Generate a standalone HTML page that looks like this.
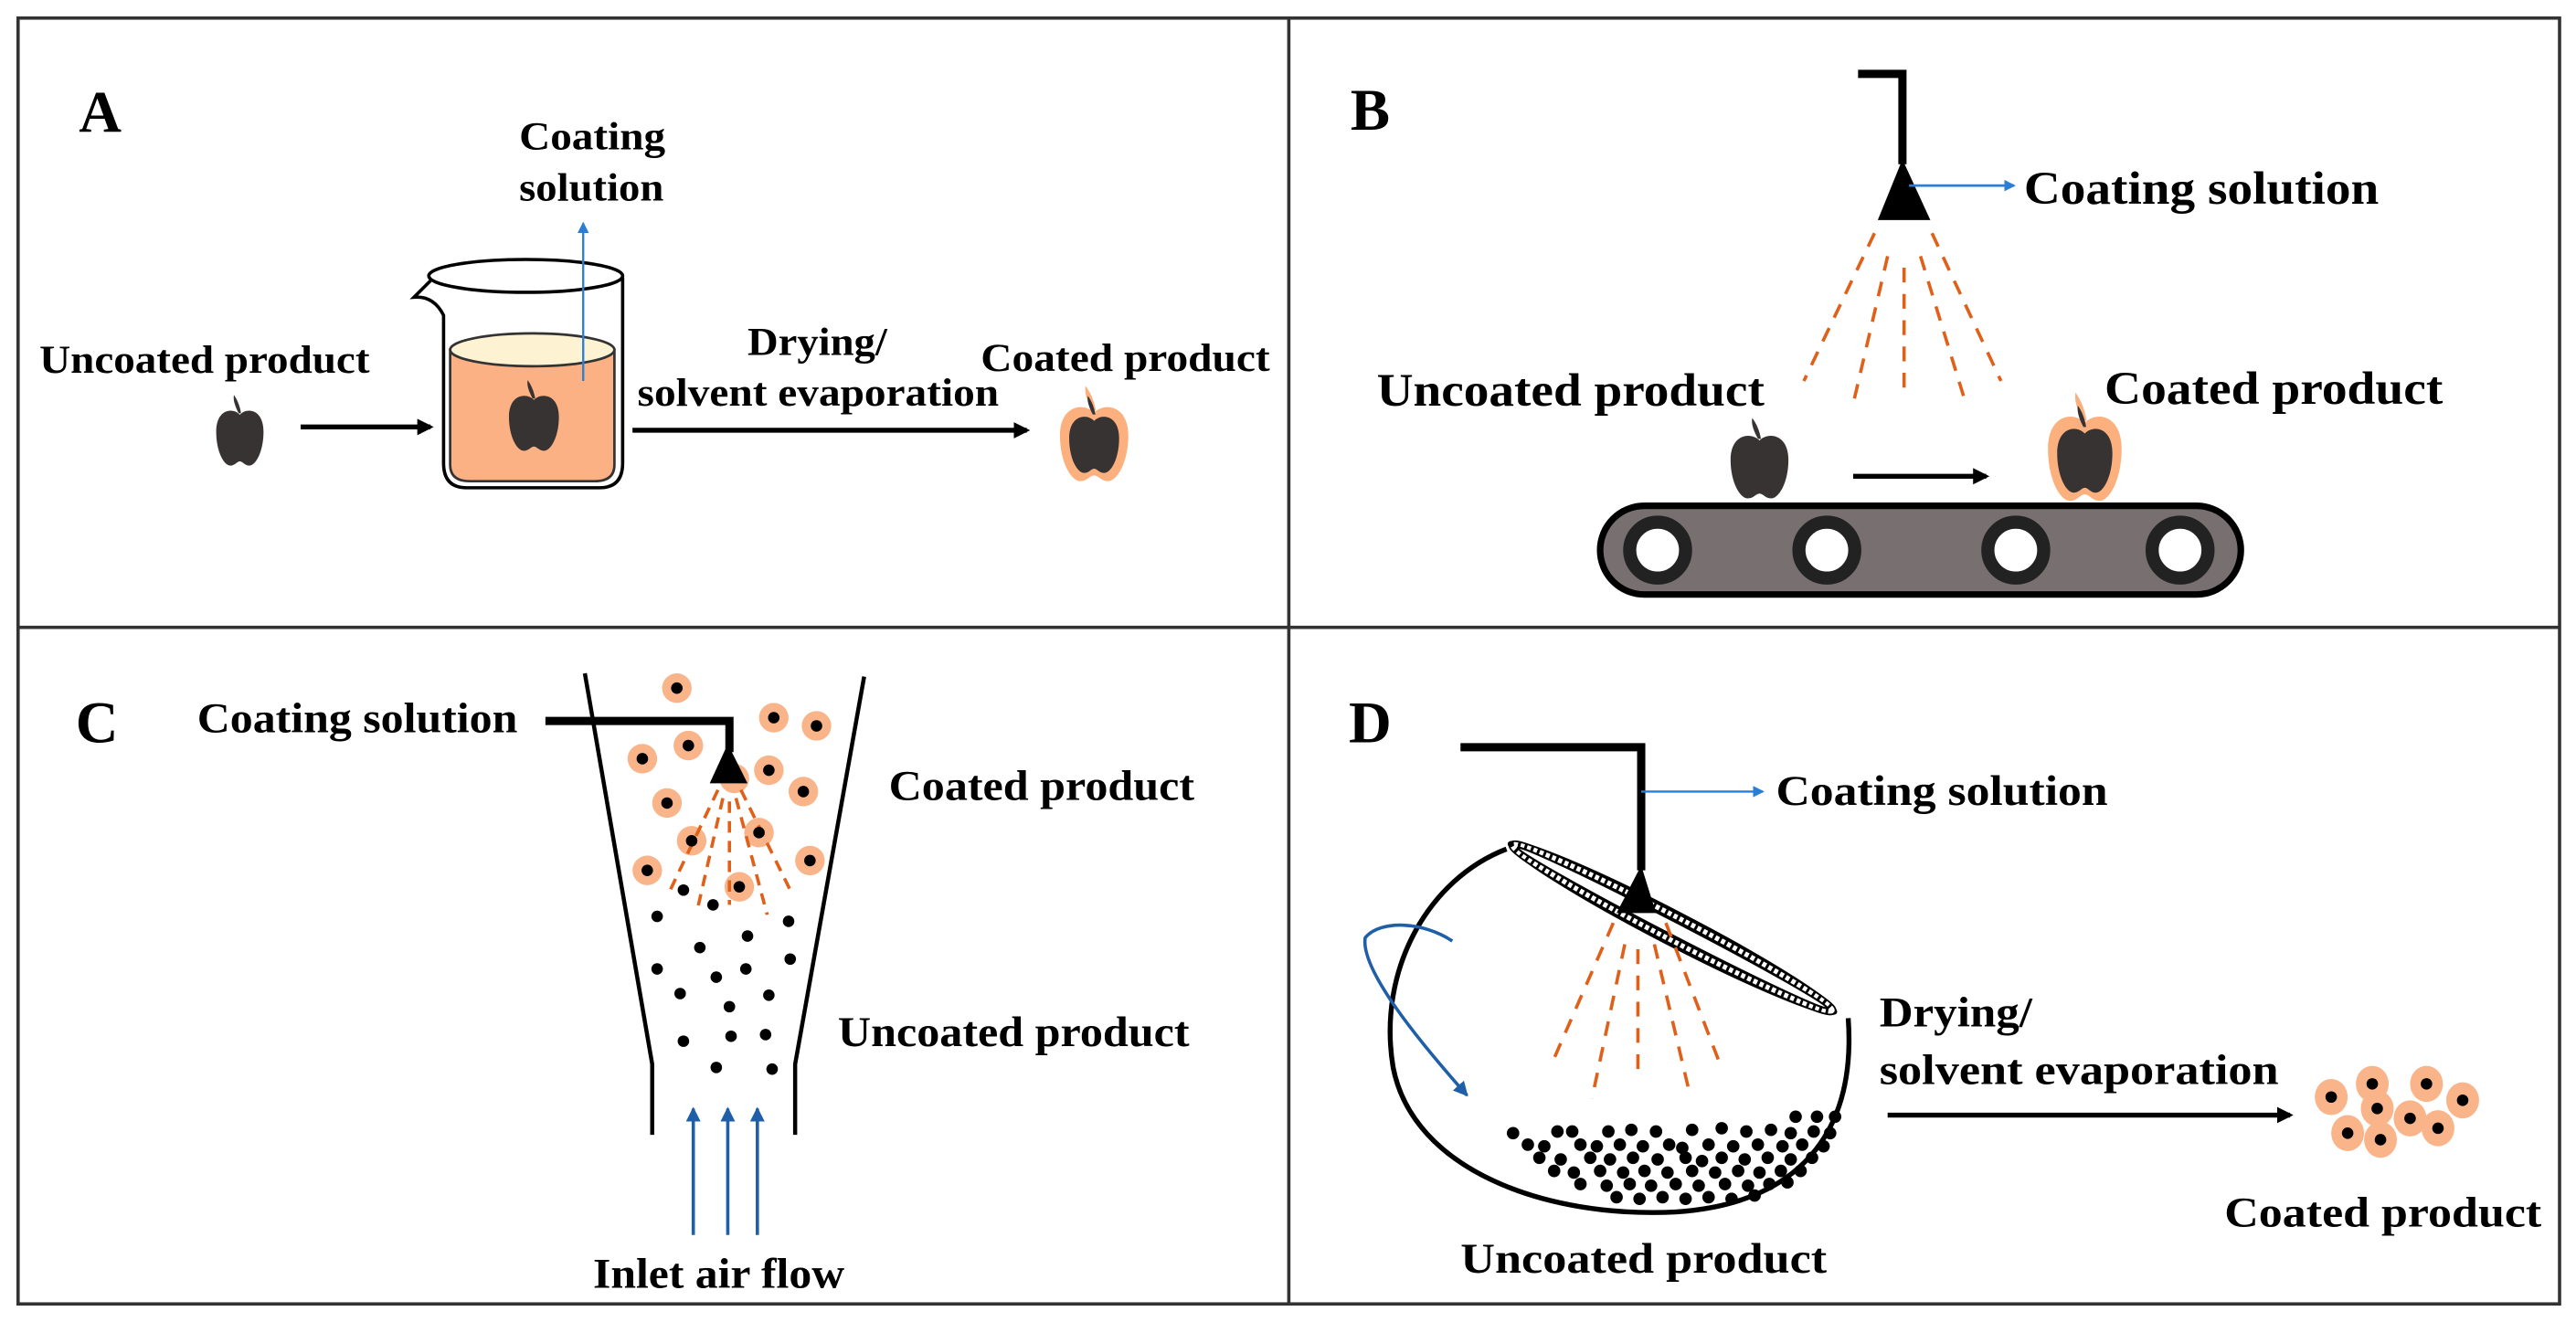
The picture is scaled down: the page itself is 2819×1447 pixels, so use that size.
<!DOCTYPE html>
<html><head><meta charset="utf-8"><style>
html,body{margin:0;padding:0;background:#fff;}
svg{display:block;}
text{font-family:"Liberation Serif",serif;font-weight:bold;fill:#000;}
</style></head><body>
<svg width="2819" height="1447" viewBox="0 0 1568 805" preserveAspectRatio="none" xmlns="http://www.w3.org/2000/svg">
<defs>
<marker id="ab" markerWidth="10" markerHeight="10" refX="8" refY="5" orient="auto" markerUnits="userSpaceOnUse"><path d="M0,0 L10,5 L0,10 Z" fill="#000"/></marker>
<marker id="abl" markerWidth="7" markerHeight="7" refX="6" refY="3.5" orient="auto" markerUnits="userSpaceOnUse"><path d="M0,0 L7,3.5 L0,7 Z" fill="#2a7fd4"/></marker>
<marker id="adb" markerWidth="9" markerHeight="9" refX="8" refY="4.5" orient="auto" markerUnits="userSpaceOnUse"><path d="M0,0 L9,4.5 L0,9 Z" fill="#1f5fa8"/></marker>
<path id="apb" d="M0,-0.22 C-0.12,-0.33 -0.4,-0.3 -0.4,0.02 C-0.4,0.3 -0.27,0.5 -0.16,0.5 C-0.08,0.5 -0.05,0.44 0,0.44 C0.05,0.44 0.08,0.5 0.16,0.5 C0.27,0.5 0.4,0.3 0.4,0.02 C0.4,-0.3 0.12,-0.33 0,-0.22 Z"/>
<path id="aps" d="M0.02,-0.24 C0,-0.35 -0.05,-0.44 -0.1,-0.5 C-0.12,-0.42 -0.07,-0.32 -0.02,-0.24 Z"/>
</defs>
<rect x="0" y="0" width="1568" height="805" fill="#fff"/>
<g stroke="#333" stroke-width="2" fill="none">
<rect x="11" y="11" width="1547" height="783"/>
<line x1="784.5" y1="11" x2="784.5" y2="794"/>
<line x1="11" y1="382" x2="1558" y2="382"/>
</g>

<!-- Panel A -->
<text x="48" y="80" font-size="36">A</text>
<text x="316" y="91" font-size="24" textLength="89" lengthAdjust="spacingAndGlyphs">Coating</text>
<text x="316" y="122" font-size="24" textLength="88" lengthAdjust="spacingAndGlyphs">solution</text>
<text x="24" y="227" font-size="24" textLength="201" lengthAdjust="spacingAndGlyphs">Uncoated product</text>
<text x="455" y="216" font-size="24" textLength="85" lengthAdjust="spacingAndGlyphs">Drying/</text>
<text x="388" y="247" font-size="24" textLength="220" lengthAdjust="spacingAndGlyphs">solvent evaporation</text>
<text x="597" y="226" font-size="24" textLength="176" lengthAdjust="spacingAndGlyphs">Coated product</text>
<g transform="translate(146,262) scale(36,43)" fill="#383333"><use href="#apb"/><use href="#aps"/></g>
<line x1="183" y1="260" x2="262" y2="260" stroke="#000" stroke-width="3" marker-end="url(#ab)"/>
<path d="M274,213 L274,283 Q274,293 286,293 L362,293 Q374,293 374,283 L374,213 Z" fill="#fbb183" stroke="#333" stroke-width="1.5"/>
<ellipse cx="324" cy="213" rx="50" ry="10" fill="#fdf3d3" stroke="#333" stroke-width="1.5"/>
<path d="M262,171 L252,181 Q264,180 270,192 L270,282 Q270,297 284,297 L365,297 Q379,297 379,282 L379,169" fill="none" stroke="#000" stroke-width="2"/>
<ellipse cx="320" cy="168" rx="59" ry="10" fill="none" stroke="#000" stroke-width="2"/>
<g transform="translate(325,253) scale(38,43)" fill="#383333"><use href="#apb"/><use href="#aps"/></g>
<line x1="355" y1="232" x2="355" y2="136" stroke="#2a7fd4" stroke-width="1.3" marker-end="url(#abl)"/>
<line x1="385" y1="262" x2="625" y2="262" stroke="#000" stroke-width="3" marker-end="url(#ab)"/>
<g transform="translate(666,264) scale(52,58)" fill="#fcb07e"><use href="#apb"/><use href="#aps"/></g>
<g transform="translate(666,266) scale(38,44)" fill="#383333"><use href="#apb"/></g>
<g transform="translate(666,263) scale(38,44)" fill="#383333"><use href="#aps"/></g>

<!-- Panel B -->
<text x="822" y="79" font-size="36">B</text>
<path d="M1131,45 L1158,45 L1158,100" fill="none" stroke="#000" stroke-width="5"/>
<path d="M1158,97 L1175,134 L1143,134 Z" fill="#000"/>
<line x1="1162" y1="113" x2="1226" y2="113" stroke="#2a7fd4" stroke-width="1.5" marker-end="url(#abl)"/>
<text x="1232" y="124" font-size="28" textLength="216" lengthAdjust="spacingAndGlyphs">Coating solution</text>
<g stroke="#e0601a" stroke-width="2" stroke-dasharray="9,7" fill="none">
<line x1="1141" y1="142" x2="1098" y2="232"/>
<line x1="1149" y1="156" x2="1128" y2="246"/>
<line x1="1159" y1="163" x2="1159" y2="241"/>
<line x1="1169" y1="156" x2="1197" y2="247"/>
<line x1="1176" y1="142" x2="1218" y2="232"/>
</g>
<text x="838" y="247" font-size="28" textLength="236" lengthAdjust="spacingAndGlyphs">Uncoated product</text>
<text x="1281" y="246" font-size="28" textLength="206" lengthAdjust="spacingAndGlyphs">Coated product</text>
<g transform="translate(1071,279) scale(44,49)" fill="#383333"><use href="#apb"/><use href="#aps"/></g>
<g transform="translate(1269,272) scale(56,66)" fill="#fcb07e"><use href="#apb"/><use href="#aps"/></g>
<g transform="translate(1269,275) scale(42,50)" fill="#383333"><use href="#apb"/></g>
<g transform="translate(1269,272) scale(42,50)" fill="#383333"><use href="#aps"/></g>
<line x1="1128" y1="290" x2="1209" y2="290" stroke="#000" stroke-width="3" marker-end="url(#ab)"/>
<rect x="974" y="308" width="390" height="54" rx="27" fill="#787070" stroke="#000" stroke-width="4"/>
<g fill="#fff" stroke="#222" stroke-width="8">
<circle cx="1009" cy="335" r="17"/><circle cx="1112" cy="335" r="17"/><circle cx="1227" cy="335" r="17"/><circle cx="1327" cy="335" r="17"/>
</g>

<!-- Panel C -->
<text x="46" y="452" font-size="36">C</text>
<text x="120" y="446" font-size="26" textLength="195" lengthAdjust="spacingAndGlyphs">Coating solution</text>
<path d="M356,410 L397,648 L397,691 M526,412 L484,648 L484,691" fill="none" stroke="#000" stroke-width="2.5"/>
<path d="M332,439 L444,439 L444,458" fill="none" stroke="#000" stroke-width="5"/>
<g fill="#f9b48a">
<circle cx="412" cy="419" r="9"/><circle cx="471" cy="437" r="9"/><circle cx="497" cy="442" r="9"/><circle cx="419" cy="454" r="9"/><circle cx="391" cy="462" r="9"/><circle cx="468" cy="469" r="9"/><circle cx="489" cy="482" r="9"/><circle cx="406" cy="489" r="9"/><circle cx="462" cy="507" r="9"/><circle cx="421" cy="512" r="9"/><circle cx="493" cy="524" r="9"/><circle cx="394" cy="530" r="9"/><circle cx="450" cy="540" r="9"/><circle cx="447" cy="474" r="9"/>
</g>
<path d="M443,453 L455,477 L432,477 Z" fill="#000"/>
<g stroke="#e0601a" stroke-width="2" stroke-dasharray="7,5" fill="none">
<line x1="437" y1="481" x2="407" y2="544"/>
<line x1="440" y1="486" x2="424" y2="556"/>
<line x1="444" y1="488" x2="444" y2="551"/>
<line x1="448" y1="486" x2="467" y2="557"/>
<line x1="451" y1="481" x2="482" y2="544"/>
</g>
<g fill="#000">
<circle cx="412" cy="419" r="3.5"/><circle cx="471" cy="437" r="3.5"/><circle cx="497" cy="442" r="3.5"/><circle cx="419" cy="454" r="3.5"/><circle cx="391" cy="462" r="3.5"/><circle cx="468" cy="469" r="3.5"/><circle cx="489" cy="482" r="3.5"/><circle cx="406" cy="489" r="3.5"/><circle cx="462" cy="507" r="3.5"/><circle cx="421" cy="512" r="3.5"/><circle cx="493" cy="524" r="3.5"/><circle cx="394" cy="530" r="3.5"/><circle cx="450" cy="540" r="3.5"/>
<circle cx="416" cy="542" r="3.5"/><circle cx="434" cy="551" r="3.5"/><circle cx="400" cy="558" r="3.5"/><circle cx="480" cy="561" r="3.5"/><circle cx="455" cy="570" r="3.5"/><circle cx="426" cy="577" r="3.5"/><circle cx="400" cy="590" r="3.5"/><circle cx="481" cy="584" r="3.5"/><circle cx="436" cy="595" r="3.5"/><circle cx="454" cy="590" r="3.5"/><circle cx="414" cy="605" r="3.5"/><circle cx="468" cy="606" r="3.5"/><circle cx="444" cy="613" r="3.5"/><circle cx="416" cy="634" r="3.5"/><circle cx="445" cy="631" r="3.5"/><circle cx="466" cy="630" r="3.5"/><circle cx="436" cy="650" r="3.5"/><circle cx="470" cy="651" r="3.5"/>
</g>
<text x="541" y="487" font-size="26" textLength="186" lengthAdjust="spacingAndGlyphs">Coated product</text>
<text x="510" y="637" font-size="26" textLength="214" lengthAdjust="spacingAndGlyphs">Uncoated product</text>
<g stroke="#1f5fa8" stroke-width="2" marker-end="url(#adb)">
<line x1="422" y1="752" x2="422" y2="675"/><line x1="443" y1="752" x2="443" y2="675"/><line x1="461" y1="752" x2="461" y2="675"/>
</g>
<text x="361" y="784" font-size="26" textLength="153" lengthAdjust="spacingAndGlyphs">Inlet air flow</text>

<!-- Panel D -->
<text x="821" y="452" font-size="36">D</text>
<path d="M889,455 L999,455 L999,530" fill="none" stroke="#000" stroke-width="5"/>
<line x1="999" y1="482" x2="1073" y2="482" stroke="#2a7fd4" stroke-width="1.3" marker-end="url(#abl)"/>
<text x="1081" y="490" font-size="26" textLength="202" lengthAdjust="spacingAndGlyphs">Coating solution</text>
<path d="M917,517 C870,535 838,590 848,650 C860,712 940,742 1020,738 C1095,733 1130,690 1125,620" fill="none" stroke="#000" stroke-width="3"/>
<g transform="rotate(27.4 1018 565)">
<ellipse cx="1018" cy="565" rx="112" ry="10" fill="#fff" stroke="#000" stroke-width="1.5"/>
<ellipse cx="1018" cy="565" rx="109.5" ry="7" fill="none" stroke="#000" stroke-width="5"/>
<ellipse cx="1018" cy="565" rx="109.5" ry="7" fill="none" stroke="#fff" stroke-width="3" stroke-dasharray="2.5,1.6"/>
<ellipse cx="1018" cy="565" rx="106" ry="4" fill="#fff" stroke="#000" stroke-width="1.2"/>
</g>
<path d="M999,527 L1008,556 L984,556 Z" fill="#000"/>
<g stroke="#e0601a" stroke-width="2" stroke-dasharray="9,7" fill="none">
<line x1="982" y1="562" x2="944" y2="649"/>
<line x1="989" y1="575" x2="969" y2="669"/>
<line x1="997" y1="578" x2="997" y2="657"/>
<line x1="1007" y1="575" x2="1029" y2="668"/>
<line x1="1014" y1="562" x2="1047" y2="648"/>
</g>
<path d="M884,573 C866,561 840,560 831,571 C828,590 862,632 893,667" fill="none" stroke="#1f5fa8" stroke-width="2" marker-end="url(#adb)"/>
<g fill="#000">
<circle cx="1093" cy="680" r="3.8"/><circle cx="1106" cy="680" r="3.8"/><circle cx="1117" cy="680" r="3.8"/>
<circle cx="921" cy="690" r="3.8"/><circle cx="948" cy="689" r="3.8"/><circle cx="957" cy="689" r="3.8"/><circle cx="979" cy="689" r="3.8"/><circle cx="993" cy="688" r="3.8"/><circle cx="1008" cy="689" r="3.8"/><circle cx="1030" cy="688" r="3.8"/><circle cx="1048" cy="687" r="3.8"/><circle cx="1063" cy="689" r="3.8"/><circle cx="1078" cy="688" r="3.8"/><circle cx="1090" cy="690" r="3.8"/><circle cx="1104" cy="689" r="3.8"/><circle cx="1114" cy="690" r="3.8"/>
<circle cx="930" cy="697" r="3.8"/><circle cx="940" cy="698" r="3.8"/><circle cx="962" cy="697" r="3.8"/><circle cx="972" cy="698" r="3.8"/><circle cx="986" cy="697" r="3.8"/><circle cx="1000" cy="698" r="3.8"/><circle cx="1016" cy="697" r="3.8"/><circle cx="1024" cy="699" r="3.8"/><circle cx="1040" cy="697" r="3.8"/><circle cx="1055" cy="698" r="3.8"/><circle cx="1070" cy="697" r="3.8"/><circle cx="1085" cy="698" r="3.8"/><circle cx="1097" cy="697" r="3.8"/><circle cx="1110" cy="698" r="3.8"/>
<circle cx="937" cy="705" r="3.8"/><circle cx="950" cy="706" r="3.8"/><circle cx="968" cy="705" r="3.8"/><circle cx="980" cy="706" r="3.8"/><circle cx="994" cy="705" r="3.8"/><circle cx="1009" cy="706" r="3.8"/><circle cx="1026" cy="705" r="3.8"/><circle cx="1036" cy="707" r="3.8"/><circle cx="1048" cy="705" r="3.8"/><circle cx="1062" cy="706" r="3.8"/><circle cx="1076" cy="705" r="3.8"/><circle cx="1090" cy="706" r="3.8"/><circle cx="1103" cy="705" r="3.8"/>
<circle cx="946" cy="713" r="3.8"/><circle cx="958" cy="714" r="3.8"/><circle cx="974" cy="713" r="3.8"/><circle cx="988" cy="714" r="3.8"/><circle cx="1001" cy="713" r="3.8"/><circle cx="1015" cy="714" r="3.8"/><circle cx="1030" cy="713" r="3.8"/><circle cx="1044" cy="714" r="3.8"/><circle cx="1058" cy="713" r="3.8"/><circle cx="1071" cy="714" r="3.8"/><circle cx="1084" cy="713" r="3.8"/><circle cx="1096" cy="713" r="3.8"/>
<circle cx="962" cy="721" r="3.8"/><circle cx="978" cy="722" r="3.8"/><circle cx="992" cy="721" r="3.8"/><circle cx="1005" cy="722" r="3.8"/><circle cx="1020" cy="721" r="3.8"/><circle cx="1034" cy="722" r="3.8"/><circle cx="1050" cy="721" r="3.8"/><circle cx="1064" cy="722" r="3.8"/><circle cx="1077" cy="721" r="3.8"/><circle cx="1088" cy="720" r="3.8"/>
<circle cx="984" cy="729" r="3.8"/><circle cx="998" cy="730" r="3.8"/><circle cx="1012" cy="729" r="3.8"/><circle cx="1026" cy="730" r="3.8"/><circle cx="1040" cy="729" r="3.8"/><circle cx="1054" cy="730" r="3.8"/><circle cx="1068" cy="728" r="3.8"/>
</g>
<text x="1144" y="625" font-size="26" textLength="93" lengthAdjust="spacingAndGlyphs">Drying/</text>
<text x="1144" y="660" font-size="26" textLength="243" lengthAdjust="spacingAndGlyphs">solvent evaporation</text>
<line x1="1149" y1="679" x2="1394" y2="679" stroke="#000" stroke-width="3" marker-end="url(#ab)"/>
<g fill="#f9b48a">
<ellipse cx="1419" cy="668" rx="10" ry="11"/><ellipse cx="1444" cy="660" rx="10" ry="11"/><ellipse cx="1477" cy="660" rx="10" ry="11"/><ellipse cx="1499" cy="670" rx="10" ry="11"/><ellipse cx="1447" cy="675" rx="10" ry="11"/><ellipse cx="1467" cy="681" rx="10" ry="11"/><ellipse cx="1429" cy="690" rx="10" ry="11"/><ellipse cx="1449" cy="694" rx="10" ry="11"/><ellipse cx="1484" cy="687" rx="10" ry="11"/>
</g>
<g fill="#000">
<circle cx="1419" cy="668" r="3.5"/><circle cx="1444" cy="660" r="3.5"/><circle cx="1477" cy="660" r="3.5"/><circle cx="1499" cy="670" r="3.5"/><circle cx="1447" cy="675" r="3.5"/><circle cx="1467" cy="681" r="3.5"/><circle cx="1429" cy="690" r="3.5"/><circle cx="1449" cy="694" r="3.5"/><circle cx="1484" cy="687" r="3.5"/>
</g>
<text x="1354" y="747" font-size="26" textLength="193" lengthAdjust="spacingAndGlyphs">Coated product</text>
<text x="889" y="775" font-size="26" textLength="223" lengthAdjust="spacingAndGlyphs">Uncoated product</text>
</svg>
</body></html>
